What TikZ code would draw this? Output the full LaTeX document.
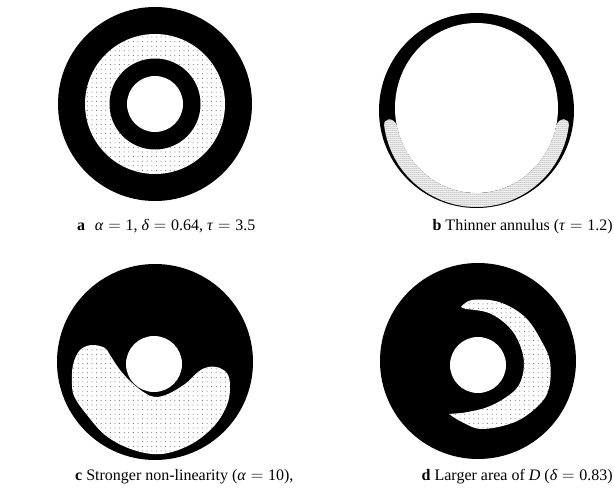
\documentclass[tikz,border=0pt]{standalone}
\usepackage{fontspec}
\setmainfont{Liberation Serif}
\usetikzlibrary{patterns.meta}

\begin{document}
\begin{tikzpicture}[x=1pt, y=-1pt,
    caption/.style={anchor=base west, inner sep=0pt, font=\fontsize{16}{19}\selectfont},
    rcaption/.style={caption, anchor=base east},
    stipple/.style={preaction={fill=white}, pattern={Dots[distance=4.6pt, radius=0.5pt]}, pattern color=black!65},
    finestipple/.style={preaction={fill=white}, pattern={Dots[distance=2pt, radius=0.5pt]}, pattern color=black!80}]
    \useasboundingbox[fill=white] (0,0) rectangle (614,497);

    % Panel a
    \fill[black] (155,104) circle (97);
    \fill[stipple] (155,104) circle (70);
    \fill[black] (155,104) circle (45.5);
    \fill[white] (155,104) circle (28);
    \node[caption] (capA) at (77,231) {\textbf{a}\hspace{0.6em}$\mbox{\textit{α}} = \mbox{1}$, $\mbox{\textit{δ}} = \mbox{0.64}$, $\mbox{\textit{τ}} = \mbox{3.5}$};

    % Panel b
    \fill[black] (476.5,110.5) circle (97.5);
    \fill[white] (476.5,108) ellipse (81.5 and 85);
    \fill[finestipple] (476.5,114) ++(173.2:93)
        arc[start angle=173.2, end angle=6.8, radius=93]
        .. controls (569,118) and (560,117) .. (556.4,125)
        arc[start angle=11.5, end angle=168.5, x radius=81.5, y radius=85]
        .. controls (393,117) and (384,118) .. cycle;
    \node[rcaption] (capB) at (613,231) {\textbf{b} Thinner annulus ($\mbox{\textit{τ}} = \mbox{1.2}$)};

    % Panel c
    \fill[black] (155,362) circle (98);
    \fill[white] (154,364) circle (28);
    \fill[stipple] plot[smooth cycle, tension=0.6] coordinates {
        (92,345) (105,348) (110,355) (120,370) (132,383) (145,393) (155,397)
        (168,394) (185,384) (198,372) (208,367) (220,368) (228,375) (230,388)
        (227,405) (215,425) (195,442) (172,452) (152,454) (128,448) (105,435)
        (87,415) (75,398) (72,385) (73,365) (80,350)};
    \node[caption] (capC) at (75,480) {\textbf{c} Stronger non-linearity ($\mbox{\textit{α}} = \mbox{10}$),};

    % Panel d
    \fill[black] (478,361) circle (98);
    \fill[white] (478,365) circle (28);
    \fill[stipple] plot[smooth, tension=0.6] coordinates {
        (461,307) (472,300) (499,302) (525,317) (542,342) (550,362) (549,388)
        (539,405) (515,422) (482,429) (462,422) (449,414)}
        -- plot[smooth, tension=0.6] coordinates {
        (462,413) (485,408) (505,398) (519,385) (524,365) (520,345) (509,327)
        (489,313) (465,309)} -- cycle;
    \node[rcaption] (capD) at (613,480) {\textbf{d} Larger area of \textit{D} ($\mbox{\textit{δ}} = \mbox{0.83}$)};
\end{tikzpicture}
\end{document}
